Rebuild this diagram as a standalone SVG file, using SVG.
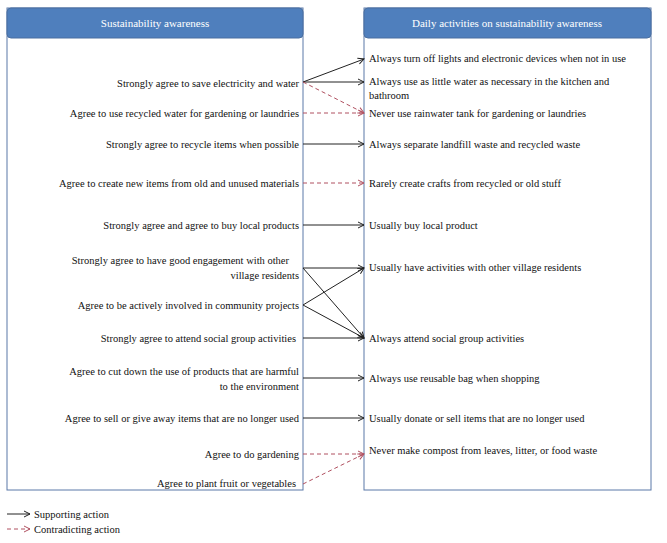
<svg xmlns="http://www.w3.org/2000/svg" width="667" height="543" viewBox="0 0 667 543">
<style>
text{font-family:"Liberation Serif",serif;font-size:10.5px;fill:#111}
.l{text-anchor:end}
.h{fill:#fff;text-anchor:middle;font-size:11px}
.s{stroke:#222;stroke-width:1;fill:none}
.d{stroke:#b05060;stroke-width:1;fill:none;stroke-dasharray:4,3}
.box{fill:#fff;stroke:#5a78a8;stroke-width:1}
.hd{fill:#4f7fbd;stroke:#4a6fa0}
</style>
<defs>
<marker id="a" viewBox="0 0 8 8" refX="7" refY="4" markerWidth="8" markerHeight="8" orient="auto" markerUnits="userSpaceOnUse"><path d="M1,1 L7,4 L1,7" fill="none" stroke="#222"/></marker>
<marker id="b" viewBox="0 0 8 8" refX="7" refY="4" markerWidth="8" markerHeight="8" orient="auto" markerUnits="userSpaceOnUse"><path d="M1,1 L7,4 L1,7" fill="none" stroke="#b05060"/></marker>
</defs>
<g id="left">
<rect class="box" x="7" y="8" width="296" height="482"/>
<rect class="hd" x="7" y="8" width="296" height="30" rx="4"/>
<text class="h" x="155" y="27">Sustainability awareness</text>
<text class="l" x="299" y="87">Strongly agree to save electricity and water</text>
<text class="l" x="299" y="117">Agree to use recycled water for gardening or laundries</text>
<text class="l" x="299" y="148">Strongly agree to recycle items when possible</text>
<text class="l" x="299" y="187">Agree to create new items from old and unused materials</text>
<text class="l" x="299" y="229">Strongly agree and agree to buy local products</text>
<text class="l" x="289" y="264">Strongly agree to have good engagement with other</text>
<text class="l" x="299" y="279">village residents</text>
<text class="l" x="299" y="309">Agree to be actively involved in community projects</text>
<text class="l" x="296" y="342">Strongly agree to attend social group activities</text>
<text class="l" x="299" y="375">Agree to cut down the use of products that are harmful</text>
<text class="l" x="299" y="390">to the environment</text>
<text class="l" x="299" y="422">Agree to sell or give away items that are no longer used</text>
<text class="l" x="299" y="458">Agree to do gardening</text>
<text class="l" x="296" y="487">Agree to plant fruit or vegetables</text>
</g>
<g id="right">
<rect class="box" x="364" y="8" width="287" height="482"/>
<rect class="hd" x="364" y="8" width="287" height="30" rx="4"/>
<text class="h" x="507" y="27">Daily activities on sustainability awareness</text>
<text x="369" y="62">Always turn off lights and electronic devices when not in use</text>
<text x="369" y="85">Always use as little water as necessary in the kitchen and</text>
<text x="369" y="99">bathroom</text>
<text x="369" y="117">Never use rainwater tank for gardening or laundries</text>
<text x="369" y="148">Always separate landfill waste and recycled waste</text>
<text x="369" y="187">Rarely create crafts from recycled or old stuff</text>
<text x="369" y="229">Usually buy local product</text>
<text x="369" y="271">Usually have activities with other village residents</text>
<text x="369" y="342">Always attend social group activities</text>
<text x="369" y="382">Always use reusable bag when shopping</text>
<text x="369" y="422">Usually donate or sell items that are no longer used</text>
<text x="369" y="454">Never make compost from leaves, litter, or food waste</text>
</g>
<g id="connectors">
<path class="s" d="M303,82 L364,59" marker-end="url(#a)"/>
<path class="s" d="M303,82 L364,82" marker-end="url(#a)"/>
<path class="d" d="M303,82 L364,113" marker-end="url(#b)"/>
<path class="d" d="M303,113 L364,113" marker-end="url(#b)"/>
<path class="s" d="M303,144 L364,144" marker-end="url(#a)"/>
<path class="d" d="M303,183 L364,183" marker-end="url(#b)"/>
<path class="s" d="M303,225 L364,225" marker-end="url(#a)"/>
<path class="s" d="M303,268 L364,268" marker-end="url(#a)"/>
<path class="s" d="M303,268 L364,338" marker-end="url(#a)"/>
<path class="s" d="M303,305 L364,268" marker-end="url(#a)"/>
<path class="s" d="M303,305 L364,338" marker-end="url(#a)"/>
<path class="s" d="M303,338 L364,338" marker-end="url(#a)"/>
<path class="s" d="M303,378 L364,378" marker-end="url(#a)"/>
<path class="s" d="M303,418 L364,418" marker-end="url(#a)"/>
<path class="d" d="M303,454 L364,454" marker-end="url(#b)"/>
<path class="d" d="M303,484 L364,454" marker-end="url(#b)"/>
</g>
<g id="legend">
<path class="s" d="M7,514 L30,514" marker-end="url(#a)"/>
<text x="34" y="518">Supporting action</text>
<path class="d" d="M7,529 L30,529" marker-end="url(#b)"/>
<text x="34" y="533">Contradicting action</text>
</g>
</svg>
